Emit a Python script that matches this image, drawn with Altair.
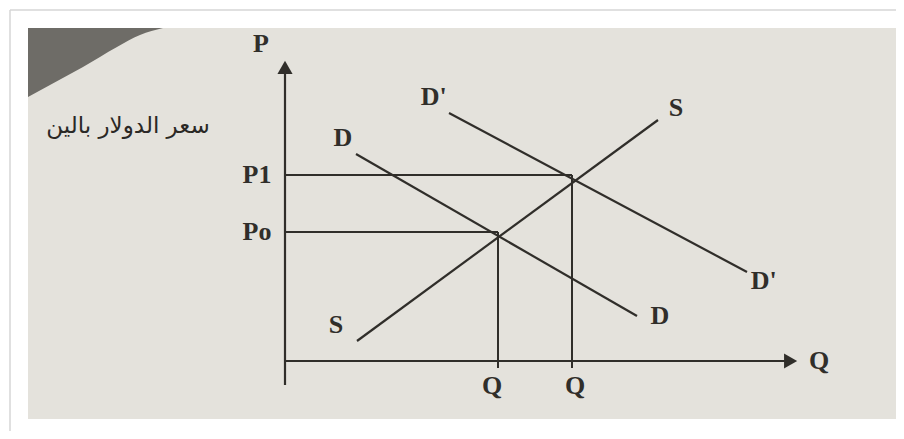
import altair as alt
import pandas as pd

# ---- diagram values (Q on the horizontal axis, P on the vertical axis) ----
curve_names = ["S", "D", "D'"]
curve_q_start = [1.8, 1.775, 4.1]
curve_p_start = [0.5, 5.175, 6.2]
curve_q_end = [9.325, 8.8, 11.55]
curve_p_end = [6.025, 1.125, 2.225]

eq_price_labels = ["Po", "P1"]
eq_q = [5.325, 7.175]
eq_p = [3.225, 4.65]
eq_qty_labels = ["Q", "Q"]

curve_label_text = ["S", "S", "D", "D", "D'", "D'"]
curve_label_q = [9.775, 1.275, 1.45, 9.375, 3.72, 11.97]
curve_label_p = [6.325, 0.9, 5.575, 1.125, 6.6, 2.0]

axis_names = ["P", "Q"]
axis_q_end = [0.0, 12.5]
axis_p_end = [7.275, 0.0]
axis_q_start = [0.0, 0.0]
axis_p_start = [-0.6, 0.0]
arrow_q = [0.0, 12.64]
arrow_p = [7.34, 0.0]
arrow_shape = ["triangle-up", "triangle-right"]
axis_label_q = [-0.6, 13.35]
axis_label_p = [7.925, 0.0]

side_title = "سعر الدولار بالين"
side_title_q = -3.925
side_title_p = 5.875

# page decoration (photo of a printed page)
page_q = [-6.425, 15.35]
page_p = [-1.45, 8.325]
wedge_q = [-6.425, -5.875, -5.05, -4.2, -3.625, -3.05]
wedge_p = [6.6, 6.9, 7.35, 7.85, 8.15, 8.325]

ink = "#302e2a"
serif = "Liberation Serif"

xs = alt.Scale(domain=[-6.925, 15.275], nice=False, zero=False)
ys = alt.Scale(domain=[-1.75, 8.825], nice=False, zero=False)


def X(f):
    return alt.X(f, type="quantitative", scale=xs, axis=None)


def Y(f):
    return alt.Y(f, type="quantitative", scale=ys, axis=None)


page_df = pd.DataFrame({"q": [page_q[0]], "q2": [page_q[1]],
                        "p": [page_p[0]], "p2": [page_p[1]]})
page = alt.Chart(page_df).mark_rect(color="#e4e2dc").encode(
    x=X("q"), x2="q2", y=Y("p"), y2="p2")

wedge_df = pd.DataFrame({"q": wedge_q, "p": wedge_p,
                         "top": [page_p[1]] * len(wedge_q)})
wedge = alt.Chart(wedge_df).mark_area(color="#6e6c67", interpolate="monotone").encode(
    x=X("q"), y=Y("p"), y2="top")

frame_df = pd.DataFrame({"q": [-6.875, -6.875], "q2": [15.275, -6.875],
                         "p": [8.775, 8.775], "p2": [8.775, -1.75]})
frame = alt.Chart(frame_df).mark_rule(color="#d6d6d6", strokeWidth=1.5).encode(
    x=X("q"), x2="q2", y=Y("p"), y2="p2")

axes_df = pd.DataFrame({"name": axis_names, "q": axis_q_start, "p": axis_p_start,
                        "q2": axis_q_end, "p2": axis_p_end})
axes = alt.Chart(axes_df).mark_rule(color=ink, strokeWidth=2.2).encode(
    x=X("q"), x2="q2", y=Y("p"), y2="p2")

arrows_df = pd.DataFrame({"q": arrow_q, "p": arrow_p, "shape": arrow_shape})
arrows = alt.Chart(arrows_df).mark_point(filled=True, size=230, opacity=1, color=ink).encode(
    x=X("q"), y=Y("p"),
    shape=alt.Shape("shape:N", scale=None, legend=None))

curves_df = pd.DataFrame({"name": curve_names, "q": curve_q_start, "p": curve_p_start,
                          "q2": curve_q_end, "p2": curve_p_end})
curves = alt.Chart(curves_df).mark_rule(color=ink, strokeWidth=2.2).encode(
    x=X("q"), x2="q2", y=Y("p"), y2="p2")

eq_df = pd.DataFrame({"label": eq_price_labels, "q": eq_q, "p": eq_p,
                      "zero": [0.0, 0.0], "below": [-0.175, -0.175]})
h_guides = alt.Chart(eq_df).mark_rule(color=ink, strokeWidth=2).encode(
    x=X("zero"), x2="q", y=Y("p"))
v_guides = alt.Chart(eq_df).mark_rule(color=ink, strokeWidth=2).encode(
    x=X("q"), y=Y("p"), y2="below")

text_props = dict(font=serif, fontSize=26, fontWeight="bold", color=ink,
                  align="center", baseline="middle")

price_df = pd.DataFrame({"t": eq_price_labels, "q": [-0.7, -0.7], "p": eq_p})
price_text = alt.Chart(price_df).mark_text(**text_props).encode(
    x=X("q"), y=Y("p"), text="t:N")

qty_df = pd.DataFrame({"t": eq_qty_labels, "q": [eq_q[0] - 0.15, eq_q[1] + 0.075],
                       "p": [-0.625, -0.625]})
qty_text = alt.Chart(qty_df).mark_text(**text_props).encode(
    x=X("q"), y=Y("p"), text="t:N")

curve_text_df = pd.DataFrame({"t": curve_label_text, "q": curve_label_q, "p": curve_label_p})
curve_text = alt.Chart(curve_text_df).mark_text(**text_props).encode(
    x=X("q"), y=Y("p"), text="t:N")

axis_text_df = pd.DataFrame({"t": axis_names, "q": axis_label_q, "p": axis_label_p})
axis_text = alt.Chart(axis_text_df).mark_text(**text_props).encode(
    x=X("q"), y=Y("p"), text="t:N")

side_df = pd.DataFrame({"t": [side_title], "q": [side_title_q], "p": [side_title_p]})
side_text = alt.Chart(side_df).mark_text(font="DejaVu Sans", fontSize=23, color="#2a2825",
                                         align="center", baseline="middle").encode(
    x=X("q"), y=Y("p"), text="t:N")

chart = alt.layer(
    page, wedge, frame, axes, arrows, h_guides, v_guides, curves,
    price_text, qty_text, curve_text, axis_text, side_text
).properties(
    width=888, height=423, padding=0, background="white",
    autosize=alt.AutoSizeParams(type="none")
).configure_view(strokeWidth=0)

chart.save("out.html", embed_options={"renderer": "svg", "actions": False})
